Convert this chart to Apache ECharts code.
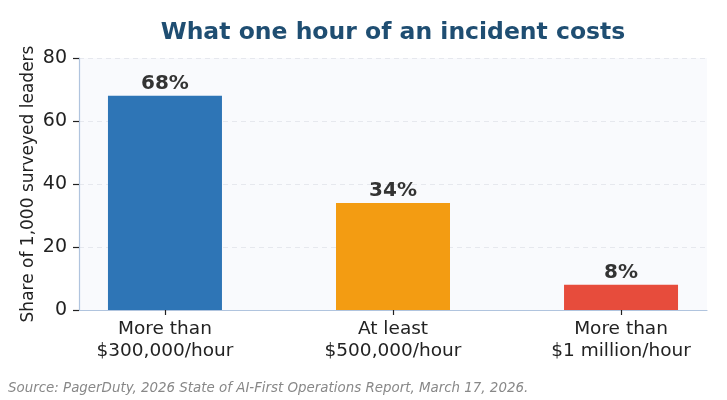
<!DOCTYPE html>
<html>
<head>
<meta charset="utf-8">
<script src="https://cdn.jsdelivr.net/npm/echarts@6/dist/echarts.min.js"></script>
<style>
html, body { margin: 0; padding: 0; background: #fff; }
#main { width: 727px; height: 400px; }
</style>
</head>
<body>
<div id="main"></div>
<script>
var categories = ['More than\n$300,000/hour', 'At least\n$500,000/hour', 'More than\n$1 million/hour'];
var shares = [68, 34, 8];
var barColors = ['#2e75b6', '#f39c12', '#e74c3c'];
var yTicks = [0, 20, 40, 60, 80];

var font = 'DejaVu Sans';

function IncidentChart() {
    var myChart = echarts.init(document.getElementById('main'));
    var positions = categories.map(function (c, i) { return i; });

    var option = {
        backgroundColor: '#ffffff',
        textStyle: { fontFamily: font },
        title: {
            text: 'What one hour of an incident costs',
            left: 388,
            top: 16,
            textAlign: 'center',
            textStyle: { fontFamily: font, fontSize: 23.5, fontWeight: 'bold', color: '#1f4e72' }
        },
        graphic: [{
            type: 'text',
            left: 8,
            top: 382,
            style: {
                text: 'Source: PagerDuty, 2026 State of AI-First Operations Report, March 17, 2026.',
                font: 'italic 13.4px "DejaVu Sans"',
                fill: '#888888'
            }
        }],
        grid: {
            left: 79, right: 20, top: 58, bottom: 90,
            show: true, backgroundColor: '#f9fafd', borderWidth: 0
        },
        xAxis: {
            type: 'value',
            min: -0.377, max: 2.377,   // matplotlib 默认的两边留白
            axisLine: { show: true, onZero: false, lineStyle: { color: '#b0c4de', width: 1.2 } },
            axisTick: { show: true, customValues: positions, length: 5, lineStyle: { color: '#222', width: 1.2 } },
            axisLabel: {
                customValues: positions,
                formatter: function (v) { return categories[Math.round(v)] || ''; },
                fontFamily: font, fontSize: 18.5, color: '#222', lineHeight: 22, margin: 8
            },
            splitLine: { show: false }
        },
        yAxis: {
            type: 'value', min: 0, max: 80, interval: 20,
            name: 'Share of 1,000 surveyed leaders',
            nameLocation: 'middle', nameGap: 42,
            nameMoveOverlap: false,
            nameTextStyle: { fontFamily: font, fontSize: 17, color: '#222' },
            axisLine: { show: true, onZero: false, lineStyle: { color: '#b0c4de', width: 1.2 } },
            axisTick: { show: true, length: 6, lineStyle: { color: '#222', width: 1.2 } },
            axisLabel: { fontFamily: font, fontSize: 19, color: '#222', margin: 12 },
            splitLine: { show: true, lineStyle: { color: '#e6e8ee', type: [5, 4] } }
        },
        series: [
            {
                type: 'bar',
                barWidth: 114,
                data: shares.map(function (v, i) {
                    return { value: [i, v], itemStyle: { color: barColors[i] } };
                }),
                label: {
                    show: true,
                    position: 'top',
                    distance: 2,
                    formatter: function (p) { return p.value[1] + '%'; },
                    fontFamily: font,
                    fontSize: 20,
                    fontWeight: 'bold',
                    color: '#333'
                }
            }
        ]
    };

    myChart.setOption(option, true);
    return myChart;
}

window.onload = function () {
    incidentChart = IncidentChart();
    window.onresize = function () {
        incidentChart.resize();
    };
};
</script>
</body>
</html>
